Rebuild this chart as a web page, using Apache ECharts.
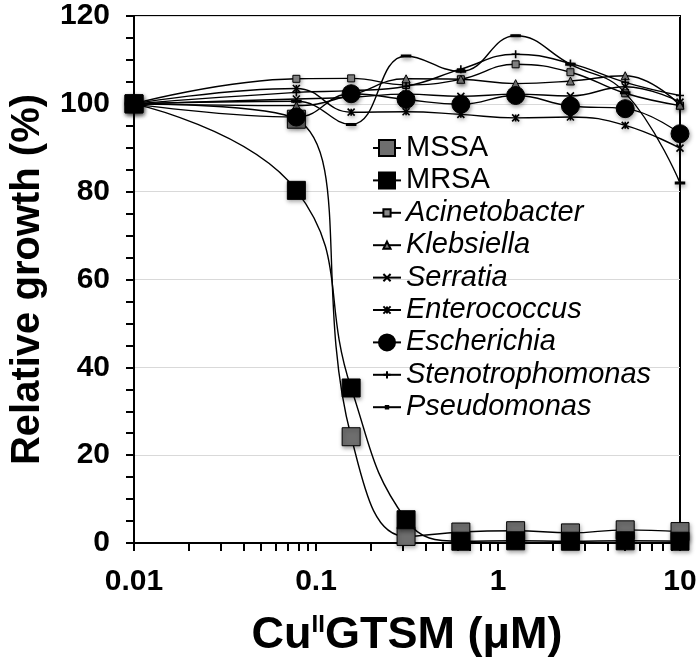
<!DOCTYPE html>
<html>
<head>
<meta charset="utf-8">
<script src="https://cdn.jsdelivr.net/npm/echarts@6/dist/echarts.min.js"></script>
<style>
html,body{margin:0;padding:0;background:#fff;}
#c{width:700px;height:670px;}
</style>
</head>
<body>
<div id="c"></div>
<script>
// Concentrations (µM) – doubling dilutions plus the control point
const concentrations = [0.01, 0.078, 0.156, 0.3125, 0.625, 1.25, 2.5, 5, 10];

const seriesNames = ['MSSA', 'MRSA', 'Acinetobacter', 'Klebsiella', 'Serratia',
  'Enterococcus', 'Escherichia', 'Stenotrophomonas', 'Pseudomonas'];

const mssa          = [100, 96.5, 24.2, 1.5, 2.5, 2.8, 2.3, 3.0, 2.6];
const mrsa          = [100, 80.3, 35.3, 5.3, 0.4, 0.5, 0.4, 0.5, 0.4];
const acinetobacter = [100, 105.7, 105.8, 104.3, 105.6, 109.0, 107.2, 102.4, 99.6];
const klebsiella    = [100, 99.6, 102.0, 105.7, 105.6, 104.6, 105.2, 106.4, 99.7];
const serratia      = [100, 101.1, 101.5, 102.2, 101.7, 102.2, 101.8, 103.9, 100.4];
const enterococcus  = [100, 103.5, 98.1, 98.2, 97.6, 96.8, 97.0, 95.1, 89.9];
const escherichia   = [100, 97.0, 102.3, 101.0, 99.9, 101.9, 99.5, 98.9, 93.2];
const stenotrophomonas = [100, 102.6, 103.0, 104.0, 107.9, 111.3, 109.2, 104.9, 101.9];
const pseudomonas   = [100, 100.6, 95.3, 110.9, 107.4, 115.5, 109.0, 102.5, 82.0];

const yTicks = [0, 20, 40, 60, 80, 100, 120];
const xTickLabels = [0.01, 0.1, 1, 10];

const seriesValues = [mssa, mrsa, acinetobacter, klebsiella, serratia,
  enterococcus, escherichia, stenotrophomonas, pseudomonas];

const FONT = '"Liberation Sans", Arial, Helvetica, sans-serif';
const shadow = {shadowBlur: 4, shadowColor: 'rgba(0,0,0,0.35)', shadowOffsetX: 1, shadowOffsetY: 2};

const styles = [
  {symbol: 'rect', size: 18, fill: '#6e6e6e', legH: 20, italic: false},
  {symbol: 'rect', size: 18, fill: '#000000', legH: 20, italic: false},
  {symbol: 'rect', size: 7, fill: '#8a8a8a', legH: 9, italic: true},
  {symbol: 'triangle', size: 8, fill: '#777777', legH: 9, italic: true},
  {symbol: 'path://M0,0L10,10M10,0L0,10', size: 7, fill: 'none', legH: 9, italic: true},
  {symbol: 'path://M0,0L10,10M10,0L0,10M5,0L5,10', size: 7, fill: 'none', legH: 9, italic: true},
  {symbol: 'circle', size: 18, fill: '#000000', legH: 20, italic: true},
  {symbol: 'path://M0,5L10,5M5,0L5,10', size: 8, fill: 'none', legH: 9, italic: true},
  {symbol: 'rect', size: [7, 2], fill: '#000000', legH: 3, italic: true}
];

// x-axis ticks (decades + log minor ticks)
const xTickVals = [];
for (let d = -2; d <= 0; d++) {
  for (let m = 1; m <= 9; m++) xTickVals.push(+(m * Math.pow(10, d)).toPrecision(3));
}
xTickVals.push(10);

const series = seriesNames.map((name, k) => {
  const st = styles[k];
  return {
    name: name,
    type: 'line',
    smooth: 0.45,
    data: concentrations.map((x, i) => [x, seriesValues[k][i]]),
    symbol: st.symbol,
    symbolSize: st.size,
    lineStyle: {color: '#000', width: 1.4},
    itemStyle: Object.assign({color: st.fill, borderColor: '#000', borderWidth: (st.fill === 'none') ? 1.6 : 1}, shadow),
    emphasis: {disabled: true},
    animation: false,
    z: 2 + k
  };
});

const legendRowTop = 133, legendRowStep = 32.4;
const legends = seriesNames.map((name, k) => ({
  data: [name],
  left: 372,
  top: legendRowTop + legendRowStep * k,
  padding: 0,
  itemWidth: 28,
  itemHeight: styles[k].legH,
  itemGap: 0,
  selectedMode: false,
  textStyle: {
    fontFamily: FONT, fontSize: 29, color: '#000', lineHeight: 30,
    fontStyle: styles[k].italic ? 'italic' : 'normal', padding: [0, 0, 0, 0]
  }
}));

const chart = echarts.init(document.getElementById('c'), null, {renderer: 'canvas'});
chart.setOption({
  animation: false,
  backgroundColor: '#fff',
  grid: {left: 127, right: 20, top: 16, bottom: 127, show: true, borderColor: '#000', borderWidth: 2, backgroundColor: 'transparent'},
  legend: legends,
  xAxis: {
    type: 'log',
    logBase: 10,
    min: xTickLabels[0],
    max: xTickLabels[xTickLabels.length - 1],
    name: '{b|Cu}{s|II}{b|GTSM (μM)}',
    nameLocation: 'middle',
    nameGap: 70,
    nameTextStyle: {
      rich: {
        b: {fontFamily: FONT, fontSize: 45, fontWeight: 'bold', color: '#000', lineHeight: 46},
        s: {fontFamily: FONT, fontSize: 24, fontWeight: 'bold', color: '#000', verticalAlign: 'top', lineHeight: 24}
      }
    },
    axisLine: {show: true, lineStyle: {color: '#000', width: 2}},
    axisTick: {show: true, length: 8, inside: false, lineStyle: {color: '#000', width: 2}, customValues: xTickVals},
    axisLabel: {
      fontFamily: FONT, fontSize: 30, fontWeight: 'bold', color: '#000', margin: 24,
      customValues: xTickLabels,
      formatter: v => String(v)
    },
    splitLine: {show: false},
    minorTick: {show: false}
  },
  yAxis: {
    type: 'value',
    min: yTicks[0],
    max: yTicks[yTicks.length - 1],
    interval: 20,
    name: 'Relative growth (%)',
    nameLocation: 'middle',
    nameGap: 86,
    nameTextStyle: {fontFamily: FONT, fontSize: 40, fontWeight: 'bold', color: '#000'},
    axisLine: {show: true, lineStyle: {color: '#000', width: 2}},
    axisTick: {show: true, length: 8, inside: false, lineStyle: {color: '#000', width: 2}},
    minorTick: {show: true, splitNumber: 4, length: 8, lineStyle: {color: '#000', width: 2}},
    axisLabel: {fontFamily: FONT, fontSize: 30, fontWeight: 'bold', color: '#000', margin: 24},
    splitLine: {show: true, lineStyle: {color: '#d9d9d9', width: 1}},
    minorSplitLine: {show: false}
  },
  series: series
});
</script>
</body>
</html>
